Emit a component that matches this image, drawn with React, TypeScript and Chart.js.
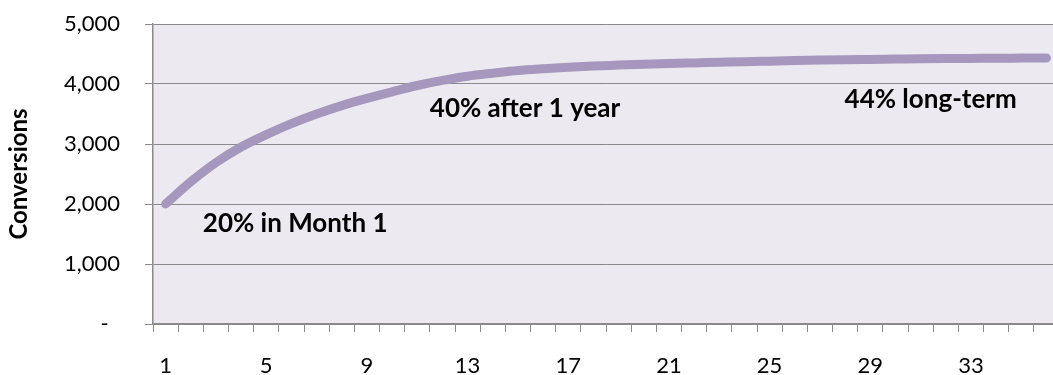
import React, { useEffect, useRef } from "react";
import { Chart, registerables } from "chart.js";

Chart.register(...registerables);

const months = [
  "1", "2", "3", "4", "5", "6", "7", "8", "9", "10", "11", "12",
  "13", "14", "15", "16", "17", "18", "19", "20", "21", "22", "23", "24",
  "25", "26", "27", "28", "29", "30", "31", "32", "33", "34", "35", "36",
];

const conversions = [
  2000, 2370, 2690, 2950, 3155, 3340, 3500, 3640, 3760, 3870, 3975, 4060,
  4130, 4180, 4225, 4255, 4280, 4300, 4315, 4330, 4342, 4352, 4362, 4372,
  4381, 4390, 4398, 4405, 4410, 4415, 4420, 4424, 4427, 4430, 4432, 4434,
];

const shownTickEvery = 4;

const yTitle = "Conversions";

const noteTexts = ["20% in Month 1", "40% after 1 year", "44% long-term"];
const noteMonthIndex = [1.48, 10.5, 26.98];
const noteValues = [1670, 3585, 3740];

const FONT = "Lato, 'Open Sans', sans-serif";

export default function App() {
  const ref = useRef<HTMLCanvasElement | null>(null);

  useEffect(() => {
    if (!ref.current) return;
    const bgPlugin = {
      id: "plotBg",
      beforeDraw(chart: any) {
        const { ctx, chartArea } = chart;
        ctx.save();
        ctx.fillStyle = "#ECEAF0";
        ctx.fillRect(
          chartArea.left,
          chartArea.top,
          chartArea.right - chartArea.left,
          chartArea.bottom - chartArea.top
        );
        ctx.restore();
      },
    };
    const notesPlugin = {
      id: "notes",
      afterDatasetsDraw(chart: any) {
        const { ctx } = chart;
        const xs = chart.scales.x;
        const ys = chart.scales.y;
        ctx.save();
        ctx.fillStyle = "#000";
        ctx.font = `bold 26px ${FONT}`;
        ctx.textAlign = "left";
        ctx.textBaseline = "middle";
        noteTexts.forEach((t, i) => {
          const x = xs.getPixelForValue(noteMonthIndex[i]);
          const y = ys.getPixelForValue(noteValues[i]);
          ctx.fillText(t, x, y);
        });
        ctx.restore();
      },
    };
    const chart = new Chart(ref.current, {
      type: "line",
      data: {
        labels: months,
        datasets: [
          {
            data: conversions,
            borderColor: "#A597BD",
            borderWidth: 9,
            borderCapStyle: "round",
            borderJoinStyle: "round",
            cubicInterpolationMode: "monotone",
            pointRadius: 0,
            fill: false,
          },
        ],
      },
      options: {
        responsive: false,
        animation: false,
        devicePixelRatio: 1,
        layout: { padding: { top: 24, right: 3, bottom: 0, left: 0 } },
        plugins: {
          legend: { display: false },
          tooltip: { enabled: false },
        },
        scales: {
          x: {
            type: "category",
            offset: true,
            grid: {
              offset: true,
              drawOnChartArea: false,
              drawTicks: true,
              tickLength: 8,
              color: "#8a8a8a",
              lineWidth: 1,
            },
            border: { display: true, color: "#8a8a8a", width: 1.5 },
            ticks: {
              autoSkip: false,
              maxRotation: 0,
              padding: 21,
              color: "#000",
              font: { family: FONT, size: 22 },
              callback: (_v: any, i: number) =>
                i % shownTickEvery === 0 ? months[i] : "",
            },
            afterFit: (s: any) => {
              s.height = 51;
              s.paddingLeft = 0;
              s.paddingRight = 0;
            },
          },
          y: {
            min: 0,
            max: 5000,
            grid: {
              drawTicks: true,
              tickLength: 8,
              color: "#8a8a8a",
              lineWidth: 1,
            },
            border: { display: true, color: "#8a8a8a", width: 1.5 },
            ticks: {
              stepSize: 1000,
              padding: 25,
              color: "#000",
              font: { family: FONT, size: 22 },
              callback: (v: any) =>
                Number(v) === 0 ? "-  " : Number(v).toLocaleString("en-US"),
            },
            title: {
              display: true,
              text: yTitle,
              color: "#000",
              font: { family: FONT, size: 24, weight: "bold" },
              padding: { top: 5, bottom: 0 },
            },
            afterFit: (s: any) => {
              s.width = 153;
              s.paddingTop = 0;
              s.paddingBottom = 0;
            },
          },
        },
      },
      plugins: [bgPlugin, notesPlugin],
    } as any);
    return () => chart.destroy();
  }, []);

  return (
    <div
      style={{
        position: "fixed",
        left: 0,
        top: 0,
        width: 1053,
        height: 375,
        overflow: "hidden",
        background: "#fff",
      }}
    >
      <canvas
        ref={ref}
        width={1062}
        height={375}
        style={{ width: 1062, height: 375, display: "block" }}
      />
    </div>
  );
}
